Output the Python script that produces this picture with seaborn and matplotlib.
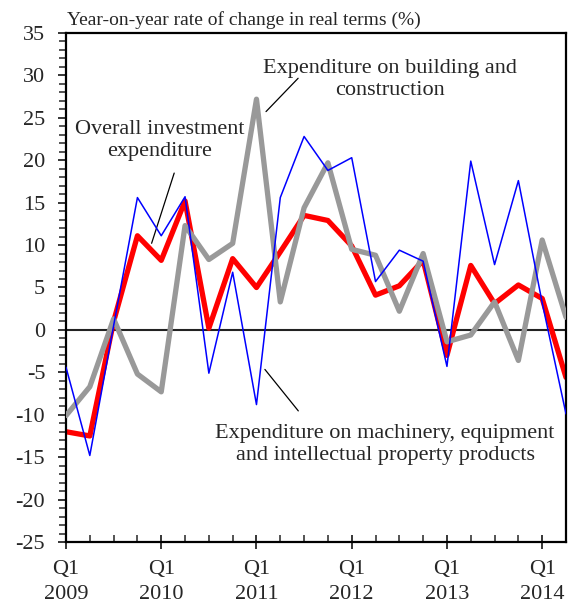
import numpy as np
import pandas as pd
import seaborn as sns
from matplotlib import pyplot as plt
from matplotlib import ticker

# quarterly data, Q1 2009 .. Q2 2014
quarters = [f"Q{q} {y}" for y in range(2009, 2015) for q in range(1, 5)][:22]
overall = [-12.0, -12.5, 1.0, 11.1, 8.2, 15.2, 0.2, 8.4, 5.0, 9.2, 13.5,
           12.9, 9.9, 4.1, 5.2, 8.2, -3.0, 7.6, 3.1, 5.3, 3.7, -5.6]
building = [-10.1, -6.7, 1.3, -5.2, -7.3, 12.3, 8.3, 10.2, 27.2, 3.3, 14.4,
            19.7, 9.5, 8.8, 2.2, 9.0, -1.4, -0.6, 3.3, -3.6, 10.6, 1.5]
machinery = [-4.4, -14.8, 0.5, 15.6, 11.1, 15.7, -5.1, 6.8, -8.8, 15.6, 22.8,
             18.8, 20.3, 5.7, 9.4, 8.1, -4.3, 19.9, 7.7, 17.6, 3.2, -9.9]
year_labels = ["Q1\n2009", "Q1\n2010", "Q1\n2011", "Q1\n2012", "Q1\n2013", "Q1\n2014"]

sns.set_style("ticks")
plt.rcParams["font.family"] = ["Liberation Serif", "DejaVu Serif"]
plt.rcParams["font.size"] = 15

df = pd.DataFrame({"q": np.arange(len(quarters)), "overall": overall,
                   "building": building, "machinery": machinery})

fig = plt.figure(figsize=(5.7, 6.12), dpi=100)
ax = fig.add_axes([66 / 570, 1 - 542 / 612, 500 / 570, 509 / 612])

ax.axhline(0, color="#222222", lw=1.5, zorder=1)
sns.lineplot(data=df, x="q", y="overall", color="#ff0000", lw=3.8, ax=ax, zorder=2)
sns.lineplot(data=df, x="q", y="building", color="#999999", lw=3.8, ax=ax, zorder=3)
sns.lineplot(data=df, x="q", y="machinery", color="#0000ff", lw=1.1, ax=ax, zorder=4)

ax.set_xlim(0, 21)
ax.set_ylim(-25, 35)
ax.set(xlabel="", ylabel="")
ax.xaxis.set_major_locator(ticker.FixedLocator(range(0, 22, 4)))
ax.xaxis.set_minor_locator(ticker.MultipleLocator(1))
ax.set_xticklabels(year_labels, linespacing=1.45)
ax.yaxis.set_major_locator(ticker.MultipleLocator(5))
ax.yaxis.set_minor_locator(ticker.MultipleLocator(1))
ax.yaxis.set_major_formatter(ticker.FuncFormatter(lambda v, p: f"{v:.0f}"))

for s in ax.spines.values():
    s.set_linewidth(1.6)
    s.set_color("black")
ax.tick_params(axis="x", which="major", direction="inout", length=10, width=1.3, pad=8, labelsize=16)
ax.tick_params(axis="x", which="minor", direction="in", length=5, width=1.1)
ax.tick_params(axis="y", which="major", direction="out", length=6, width=1.3, pad=9, labelsize=16)
ax.tick_params(axis="y", which="minor", direction="out", length=5, width=1.1)

ax.annotate("Year-on-year rate of change in real terms (%)", xy=(0, 1), xycoords="axes fraction",
            xytext=(1, 3), textcoords="offset points", ha="left", va="bottom", fontsize=14)

# annotations with leader lines
ax.text(3.95, 22.3, "Overall investment\nexpenditure", ha="center", va="center",
        fontsize=16, linespacing=1.2)
ax.annotate("", xy=(3.56, 9.9), xytext=(4.58, 18.8),
            arrowprops=dict(arrowstyle="-", color="black", lw=0.9))
ax.text(13.6, 29.5, "Expenditure on building and\nconstruction", ha="center", va="center",
        fontsize=16, linespacing=1.2)
ax.annotate("", xy=(8.32, 25.5), xytext=(9.83, 29.9),
            arrowprops=dict(arrowstyle="-", color="black", lw=0.9))
ax.text(13.4, -13.5, "Expenditure on machinery, equipment\nand intellectual property products",
        ha="center", va="center", fontsize=16, linespacing=1.2)
ax.annotate("", xy=(8.28, -4.4), xytext=(9.83, -9.8),
            arrowprops=dict(arrowstyle="-", color="black", lw=0.9))

fig.savefig("out.png", dpi=100)
